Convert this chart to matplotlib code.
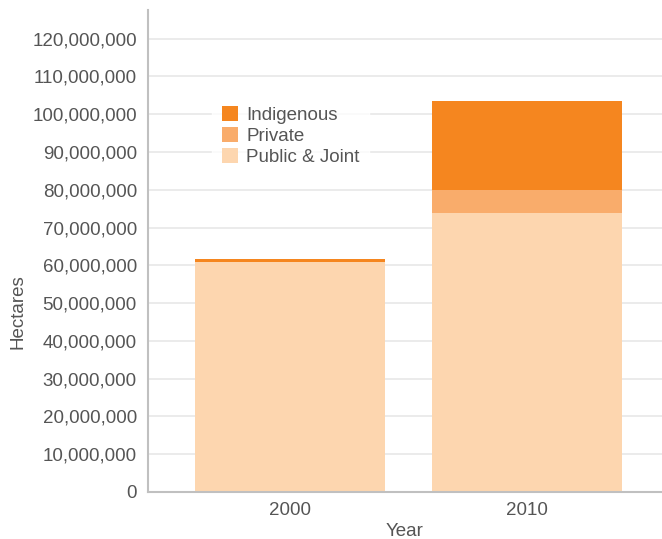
import matplotlib
matplotlib.use("Agg")
import matplotlib.pyplot as plt
from matplotlib.ticker import FuncFormatter
import numpy as np

years = ["2000", "2010"]
public_joint = [60.8e6, 73.8e6]
private = [0.0, 6.1e6]
indigenous = [0.9e6, 23.6e6]
yticks = list(range(0, 130_000_000, 10_000_000))

c_ind = "#F5861F"
c_priv = "#F9AC6B"
c_pub = "#FDD6AF"
txt = "#555555"
fs = 13.5

plt.rcParams["font.family"] = ["Liberation Sans", "DejaVu Sans"]

fig = plt.figure(figsize=(6.62, 5.39), dpi=100)
ax = fig.add_axes([148/662, 47/539, (662-148)/662, (492-9.5)/539])

x = np.arange(len(years))
w = 0.8
b1 = ax.bar(x, public_joint, w, color=c_pub, label="Public & Joint", zorder=2, linewidth=0)
b2 = ax.bar(x, private, w, bottom=public_joint, color=c_priv, label="Private", zorder=2, linewidth=0)
bottom3 = [a + b for a, b in zip(public_joint, private)]
b3 = ax.bar(x, indigenous, w, bottom=bottom3, color=c_ind, label="Indigenous", zorder=2, linewidth=0)

ax.set_xlim((148-290)/237, (662-290)/237)
ax.set_ylim(0, 127.7e6)
ax.set_yticks(yticks)
ax.yaxis.set_major_formatter(FuncFormatter(lambda v, p: f"{int(v):,}"))
ax.set_xticks(x)
ax.set_xticklabels(years)

ax.grid(axis="y", color="#e8e8e8", linewidth=1.2, zorder=0)
ax.set_axisbelow(True)
for s in ["top", "right"]:
    ax.spines[s].set_visible(False)
ax.spines["left"].set_color("#c0c0c0")
ax.spines["bottom"].set_color("#c0c0c0")
ax.spines["left"].set_linewidth(1.5)
ax.spines["bottom"].set_linewidth(1.5)
ax.tick_params(axis="both", length=0, labelsize=fs, colors=txt)
ax.tick_params(axis="y", pad=8)
ax.tick_params(axis="x", pad=7)

ax.set_xlabel("Year", fontsize=fs, color=txt, labelpad=3)
fig.text(18/662, 1 - 312/539, "Hectares", rotation=90, ha="center", va="center",
         fontsize=fs, color=txt)

leg = ax.legend(handles=[b3, b2, b1], labels=["Indigenous", "Private", "Public & Joint"],
                loc="upper left", bbox_to_anchor=((203-148)/514, 1 - (87-9.5)/482.5),
                frameon=True, fontsize=fs, handlelength=0.85, handleheight=0.85,
                handletextpad=0.45, labelspacing=0.16, borderpad=0.5, fancybox=False)
leg.get_frame().set_facecolor("white")
leg.get_frame().set_edgecolor("white")
for t in leg.get_texts():
    t.set_color(txt)

fig.savefig("out.png", dpi=100)
